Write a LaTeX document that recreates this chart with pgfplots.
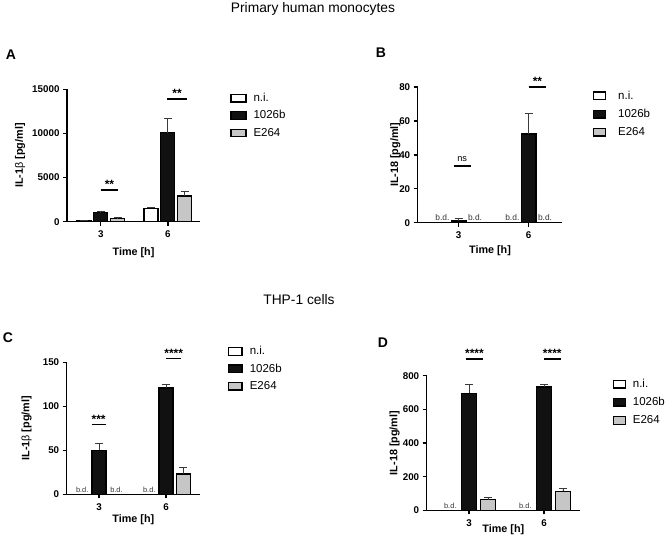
\documentclass[border=0pt]{standalone}
\usepackage{fontspec}
\setmainfont{Liberation Sans}
\usepackage{pgfplots}
\pgfplotsset{compat=1.18}

\definecolor{barblack}{HTML}{111111}
\definecolor{bargray}{HTML}{C6C6C6}
\definecolor{errgray}{HTML}{3A3A3A}
\definecolor{bdgray}{HTML}{333333}

\newcommand{\fs}[1]{\fontsize{#1}{#1}\selectfont}
\newcommand{\lab}{\fs{10.8bp}\bfseries}

\pgfplotsset{
  panel/.style={
    scale only axis, clip=false,
    axis lines=left, axis line style={line width=1.4bp, -},
    major tick length=4bp, tick align=outside,
    every tick/.style={line width=1.4bp, black},
    xtick={0,1}, xticklabels={3,6}, ymin=0,
    scaled y ticks=false,
    /pgf/number format/assume math mode=true,
    /pgf/number format/1000 sep={},
    tick label style={font=\fs{9.8bp}\bfseries},
    xticklabel style={yshift=-1.5bp},
    xlabel={\lab Time [h]},
    legend cell align=left,
    legend style={draw=none, fill=none, anchor=north west, inner sep=0pt,
      font=\fs{11.5bp}, row sep=8.5bp,
      nodes={inner sep=0pt, text height=7.2bp, text depth=0.8bp, font=\fs{11.5bp}}},
  },
  swatch/.style={legend image code/.code={\draw[##1, line width=1.3bp] (0bp,-3.8bp) rectangle (#1,3.8bp);}},
  bars/.style={ybar, bar width=0.21, bar shift=0pt, draw=black, line width=1.2bp,
    error bars/y dir=plus, error bars/y explicit,
    error bars/error bar style={line width=0.9bp, errgray},
    error bars/error mark options={rotate=90, mark size=4bp, line width=0.9bp, errgray}},
  ni/.style={bars, fill=white},
  lps/.style={bars, fill=barblack},
  eco/.style={bars, fill=bargray},
  ylab/.style={ylabel style={at={(axis description cs:#1,0.5)}, anchor=center}},
  xlab/.style={xlabel style={at={(axis description cs:0.5,#1)}, anchor=center}},
}
\tikzset{
  sig/.style={above, inner sep=0.5bp, font=\fs{12bp}\bfseries},
  bd/.style={anchor=south, inner sep=0pt, yshift=1.5bp, text=bdgray},
}

\begin{document}
\begin{tikzpicture}
\path[use as bounding box] (0,0) rectangle (672bp,-547bp);

% section titles and panel letters
\node[font=\fs{13.8bp}] at (313bp,-9bp) {Primary human monocytes};
\node[font=\fs{13.8bp}] at (299bp,-300bp) {THP-1 cells};
\node[font=\fs{14bp}\bfseries] at (11bp,-55bp) {A};
\node[font=\fs{14bp}\bfseries] at (381bp,-53bp) {B};
\node[font=\fs{14bp}\bfseries] at (8bp,-338bp) {C};
\node[font=\fs{14bp}\bfseries] at (383bp,-343bp) {D};

% ---------------- A: IL-1beta, primary monocytes ----------------
\begin{axis}[panel, at={(67bp,-221.7bp)}, anchor=south west,
  width=133bp, height=132.4bp, xmin=-0.503, xmax=1.48,
  ymax=15000, ytick={0,5000,10000,15000},
  ylabel={\lab IL-1{\mdseries β} [pg/ml]}, ylab=-0.353, xlab=-0.232,
  swatch=15bp,
  legend style={at={(axis description cs:1.2256,0.968)}, column sep=7bp},
  legend entries={n.i.,1026b,E264}]
\addplot[ni]  coordinates {(-0.25,120) +- (0,30)  (0.75,1520) +- (0,150)};
\addplot[lps] coordinates {(0,1000) +- (0,150)    (1,10100) +- (0,1600)};
\addplot[eco] coordinates {(0.25,330) +- (0,120)  (1.25,2920) +- (0,500)};
\draw[line width=1.5bp] (axis cs:0,3600) -- node[sig]{**} (axis cs:0.26,3600);
\draw[line width=1.5bp] (axis cs:0.985,13900) -- node[sig]{**} (axis cs:1.29,13900);
\end{axis}

% ---------------- B: IL-18, primary monocytes ----------------
\begin{axis}[panel, at={(417.7bp,-222.7bp)}, anchor=south west,
  width=144.6bp, height=135.7bp, xmin=-0.586, xmax=1.48,
  ymax=80, ytick={0,20,40,60,80},
  ylabel={\lab IL-18 [pg/ml]}, ylab=-0.155, xlab=-0.205,
  swatch=11.7bp,
  legend style={at={(axis description cs:1.212,0.969)}, column sep=12bp, row sep=9.3bp},
  legend entries={n.i.,1026b,E264}]
\addlegendimage{fill=white}
\addplot[lps] coordinates {(0,1) +- (0,1.8)  (1,52.3) +- (0,12.2)};
\addlegendimage{fill=bargray}
\draw[line width=1.5bp] (axis cs:-0.07,33.4) -- node[above, inner sep=1bp, yshift=2.5bp, font=\fs{9.2bp}]{ns} (axis cs:0.17,33.4);
\draw[line width=1.5bp] (axis cs:1,80) -- node[sig]{**} (axis cs:1.25,80);
\node[bd, font=\fs{8.4bp}] at (axis cs:-0.234,0) {b.d.};
\node[bd, font=\fs{8.4bp}] at (axis cs:0.233,0) {b.d.};
\node[bd, font=\fs{8.4bp}] at (axis cs:0.766,0) {b.d.};
\node[bd, font=\fs{8.4bp}] at (axis cs:1.233,0) {b.d.};
\end{axis}

% ---------------- C: IL-1beta, THP-1 ----------------
\begin{axis}[panel, at={(66.7bp,-494.3bp)}, anchor=south west,
  width=133.3bp, height=132bp, xmin=-0.482, xmax=1.507,
  ymax=150, ytick={0,50,100,150},
  ylabel={\lab IL-1{\mdseries β} [pg/ml]}, ylab=-0.30, xlab=-0.195,
  swatch=13.3bp,
  legend style={at={(axis description cs:1.21,1.117)}, column sep=7bp},
  legend entries={n.i.,1026b,E264}]
\addlegendimage{fill=white}
\addplot[lps] coordinates {(0,50) +- (0,8.3)     (1,120.8) +- (0,3.8)};
\addplot[eco] coordinates {(1.26,23.1) +- (0,7.9)};
\draw[line width=1.5bp] (axis cs:-0.11,79.5) -- node[sig]{***} (axis cs:0.10,79.5);
\draw[line width=1.5bp] (axis cs:1,154.5) -- node[sig]{****} (axis cs:1.23,154.5);
\node[bd, font=\fs{7.4bp}] at (axis cs:-0.25,0) {b.d.};
\node[bd, font=\fs{7.4bp}] at (axis cs:0.26,0) {b.d.};
\node[bd, font=\fs{7.4bp}] at (axis cs:0.75,0) {b.d.};
\end{axis}

% ---------------- D: IL-18, THP-1 ----------------
\begin{axis}[panel, at={(426.7bp,-510.3bp)}, anchor=south west,
  width=153.3bp, height=134.6bp, xmin=-0.564, xmax=1.48,
  ymax=800, ytick={0,200,400,600,800},
  ylabel={\lab IL-18 [pg/ml]}, ylab=-0.21, xlab=-0.141,
  swatch=11.7bp,
  legend style={at={(axis description cs:1.213,0.972)}, column sep=7bp, row sep=9.3bp},
  legend entries={n.i.,1026b,E264}]
\addlegendimage{fill=white}
\addplot[lps] coordinates {(0,695) +- (0,53)  (1,733) +- (0,13)};
\addplot[eco] coordinates {(0.253,63) +- (0,16) (1.253,113) +- (0,18)};
\draw[line width=1.5bp] (axis cs:-0.044,899) -- node[sig]{****} (axis cs:0.19,899);
\draw[line width=1.5bp] (axis cs:1,899) -- node[sig]{****} (axis cs:1.22,899);
\node[bd, font=\fs{7.4bp}] at (axis cs:-0.25,0) {b.d.};
\node[bd, font=\fs{7.4bp}] at (axis cs:0.75,0) {b.d.};
\end{axis}
\end{tikzpicture}
\end{document}
